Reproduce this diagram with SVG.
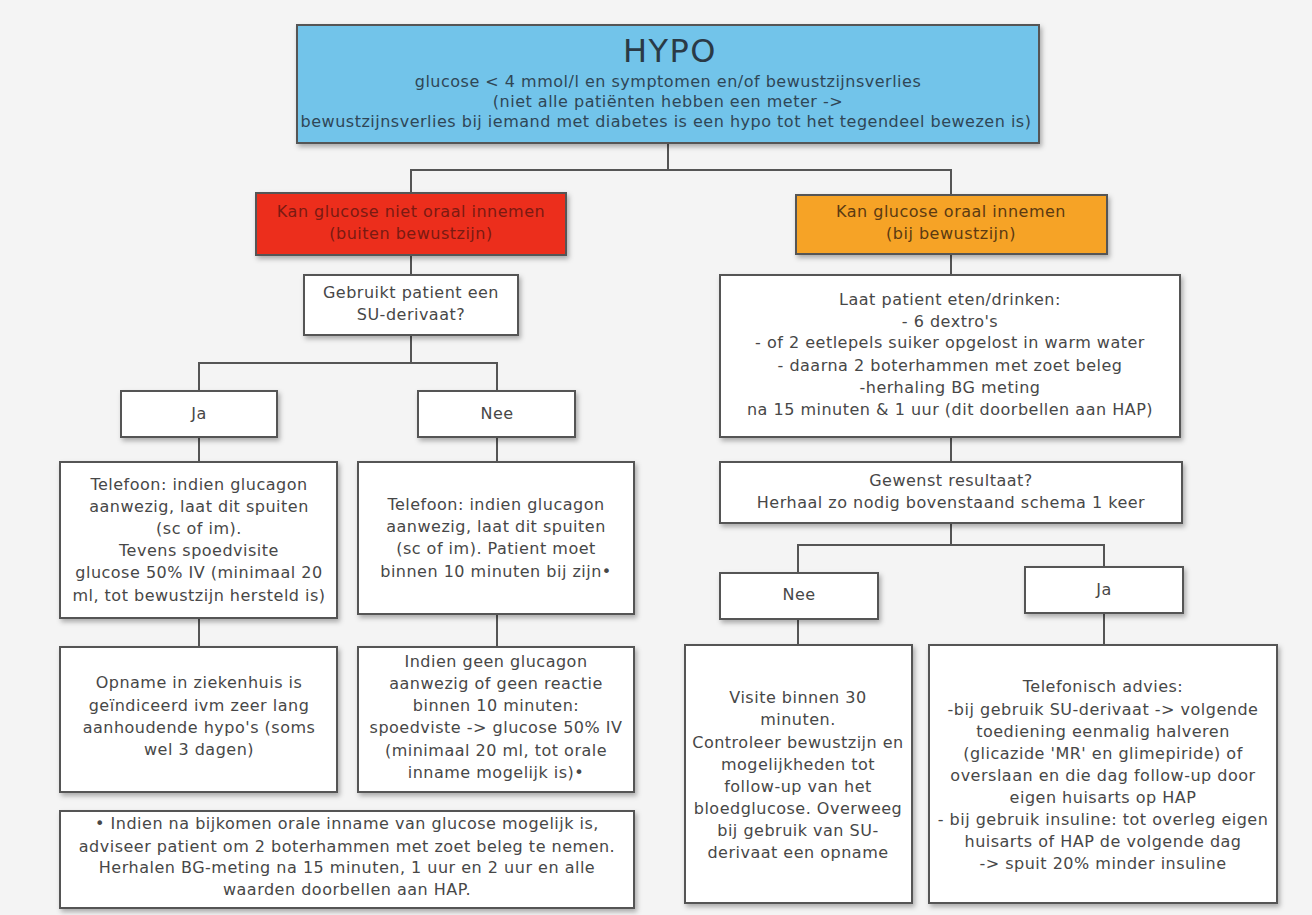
<svg xmlns="http://www.w3.org/2000/svg" width="1312" height="915" viewBox="0 0 1312 915">
<defs>
<filter id="sh" x="-10%" y="-10%" width="120%" height="130%">
<feDropShadow dx="2" dy="3" stdDeviation="2.5" flood-color="#000" flood-opacity="0.3"/>
</filter>
<style>
.box{fill:#ffffff;stroke:#555555;stroke-width:2;filter:url(#sh)}
.t{font-family:"DejaVu Sans","Liberation Sans",sans-serif;font-size:16px;letter-spacing:0.5px;fill:#474747;text-anchor:middle}
.con line{stroke:#555555;stroke-width:2}
</style>
</defs>
<rect width="1312" height="915" fill="#f4f4f4"/>
<g class="con">
<line x1="668" y1="143" x2="668" y2="170"/>
<line x1="410" y1="170" x2="952" y2="170"/>
<line x1="411" y1="170" x2="411" y2="193"/>
<line x1="951" y1="170" x2="951" y2="195"/>
<line x1="411" y1="255" x2="411" y2="275"/>
<line x1="411" y1="335" x2="411" y2="363"/>
<line x1="198" y1="363" x2="498" y2="363"/>
<line x1="199" y1="363" x2="199" y2="391"/>
<line x1="497" y1="363" x2="497" y2="391"/>
<line x1="199" y1="437" x2="199" y2="462"/>
<line x1="497" y1="437" x2="497" y2="462"/>
<line x1="199" y1="618" x2="199" y2="647"/>
<line x1="497" y1="614" x2="497" y2="647"/>
<line x1="951" y1="254" x2="951" y2="275"/>
<line x1="951" y1="437" x2="951" y2="462"/>
<line x1="951" y1="523" x2="951" y2="545"/>
<line x1="797" y1="545" x2="1105" y2="545"/>
<line x1="798" y1="545" x2="798" y2="573"/>
<line x1="1104" y1="545" x2="1104" y2="567"/>
<line x1="798" y1="619" x2="798" y2="645"/>
<line x1="1104" y1="613" x2="1104" y2="645"/>
</g>
<g id="hypo">
<rect class="box" x="297" y="25" width="742" height="118" style="fill:#72c4ea"/>
<text class="t" x="670" y="62" style="font-size:32px;letter-spacing:1.5px;fill:#2a3a46">HYPO</text>
<text class="t" x="668" y="87" style="fill:#2f4656">glucose &lt; 4 mmol/l en symptomen en/of bewustzijnsverlies</text>
<text class="t" x="668" y="107" style="fill:#2f4656">(niet alle patiënten hebben een meter -&gt;</text>
<text class="t" x="666" y="127" style="fill:#2f4656">bewustzijnsverlies bij iemand met diabetes is een hypo tot het tegendeel bewezen is)</text>
</g>
<g id="niet-oraal">
<rect class="box" x="256" y="193" width="310" height="62" style="fill:#ec2f1f"/>
<text class="t" x="411" y="217" style="fill:#7a1a12">Kan glucose niet oraal innemen</text>
<text class="t" x="411" y="239" style="fill:#7a1a12">(buiten bewustzijn)</text>
</g>
<g id="oraal">
<rect class="box" x="796" y="195" width="311" height="59" style="fill:#f6a328"/>
<text class="t" x="951" y="217" style="fill:#5b3a12">Kan glucose oraal innemen</text>
<text class="t" x="951" y="239" style="fill:#5b3a12">(bij bewustzijn)</text>
</g>
<g id="su-vraag">
<rect class="box" x="304" y="275" width="214" height="60"/>
<text class="t" x="411" y="298">Gebruikt patient een</text>
<text class="t" x="411" y="320">SU-derivaat?</text>
</g>
<g id="ja-links">
<rect class="box" x="121" y="391" width="156" height="46"/>
<text class="t" x="199" y="419">Ja</text>
</g>
<g id="nee-links">
<rect class="box" x="418" y="391" width="157" height="46"/>
<text class="t" x="497" y="419">Nee</text>
</g>
<g id="telefoon-ja">
<rect class="box" x="60" y="462" width="277" height="156"/>
<text class="t" x="199" y="490">Telefoon: indien glucagon</text>
<text class="t" x="199" y="512">aanwezig, laat dit spuiten</text>
<text class="t" x="199" y="534">(sc of im).</text>
<text class="t" x="199" y="556">Tevens spoedvisite</text>
<text class="t" x="199" y="578">glucose 50% IV (minimaal 20</text>
<text class="t" x="199" y="601">ml, tot bewustzijn hersteld is)</text>
</g>
<g id="telefoon-nee">
<rect class="box" x="358" y="462" width="276" height="152"/>
<text class="t" x="496" y="510">Telefoon: indien glucagon</text>
<text class="t" x="496" y="532">aanwezig, laat dit spuiten</text>
<text class="t" x="496" y="554">(sc of im). Patient moet</text>
<text class="t" x="496" y="577">binnen 10 minuten bij zijn•</text>
</g>
<g id="opname">
<rect class="box" x="60" y="647" width="277" height="145"/>
<text class="t" x="199" y="688">Opname in ziekenhuis is</text>
<text class="t" x="199" y="711">geïndiceerd ivm zeer lang</text>
<text class="t" x="199" y="733">aanhoudende hypo's (soms</text>
<text class="t" x="199" y="755">wel 3 dagen)</text>
</g>
<g id="geen-glucagon">
<rect class="box" x="358" y="647" width="276" height="145"/>
<text class="t" x="496" y="667">Indien geen glucagon</text>
<text class="t" x="496" y="689">aanwezig of geen reactie</text>
<text class="t" x="496" y="711">binnen 10 minuten:</text>
<text class="t" x="496" y="733">spoedviste -&gt; glucose 50% IV</text>
<text class="t" x="496" y="756">(minimaal 20 ml, tot orale</text>
<text class="t" x="496" y="778">inname mogelijk is)•</text>
</g>
<g id="voetnoot">
<rect class="box" x="60" y="811" width="574" height="97"/>
<text class="t" x="347" y="829">• Indien na bijkomen orale inname van glucose mogelijk is,</text>
<text class="t" x="347" y="852">adviseer patient om 2 boterhammen met zoet beleg te nemen.</text>
<text class="t" x="347" y="873">Herhalen BG-meting na 15 minuten, 1 uur en 2 uur en alle</text>
<text class="t" x="347" y="895">waarden doorbellen aan HAP.</text>
</g>
<g id="eten-drinken">
<rect class="box" x="720" y="275" width="460" height="162"/>
<text class="t" x="950" y="305">Laat patient eten/drinken:</text>
<text class="t" x="950" y="327">- 6 dextro's</text>
<text class="t" x="950" y="348">- of 2 eetlepels suiker opgelost in warm water</text>
<text class="t" x="950" y="371">- daarna 2 boterhammen met zoet beleg</text>
<text class="t" x="950" y="393">-herhaling BG meting</text>
<text class="t" x="950" y="415">na 15 minuten &amp; 1 uur (dit doorbellen aan HAP)</text>
</g>
<g id="gewenst">
<rect class="box" x="720" y="462" width="462" height="61"/>
<text class="t" x="951" y="486">Gewenst resultaat?</text>
<text class="t" x="951" y="508">Herhaal zo nodig bovenstaand schema 1 keer</text>
</g>
<g id="nee-rechts">
<rect class="box" x="720" y="573" width="158" height="46"/>
<text class="t" x="799" y="600">Nee</text>
</g>
<g id="ja-rechts">
<rect class="box" x="1025" y="567" width="158" height="46"/>
<text class="t" x="1104" y="595">Ja</text>
</g>
<g id="visite">
<rect class="box" x="685" y="645" width="227" height="258"/>
<text class="t" x="798" y="703">Visite binnen 30</text>
<text class="t" x="798" y="725">minuten.</text>
<text class="t" x="798" y="748">Controleer bewustzijn en</text>
<text class="t" x="798" y="770">mogelijkheden tot</text>
<text class="t" x="798" y="792">follow-up van het</text>
<text class="t" x="798" y="814">bloedglucose. Overweeg</text>
<text class="t" x="798" y="836">bij gebruik van SU-</text>
<text class="t" x="798" y="858">derivaat een opname</text>
</g>
<g id="telefonisch">
<rect class="box" x="929" y="645" width="348" height="258"/>
<text class="t" x="1103" y="692">Telefonisch advies:</text>
<text class="t" x="1103" y="715">-bij gebruik SU-derivaat -&gt; volgende</text>
<text class="t" x="1103" y="737">toediening eenmalig halveren</text>
<text class="t" x="1103" y="759">(glicazide 'MR' en glimepiride) of</text>
<text class="t" x="1103" y="781">overslaan  en die dag follow-up door</text>
<text class="t" x="1103" y="803">eigen huisarts op HAP</text>
<text class="t" x="1103" y="825">- bij gebruik insuline: tot overleg eigen</text>
<text class="t" x="1103" y="847">huisarts of HAP de volgende dag</text>
<text class="t" x="1103" y="869">-&gt; spuit 20% minder insuline</text>
</g>
</svg>
